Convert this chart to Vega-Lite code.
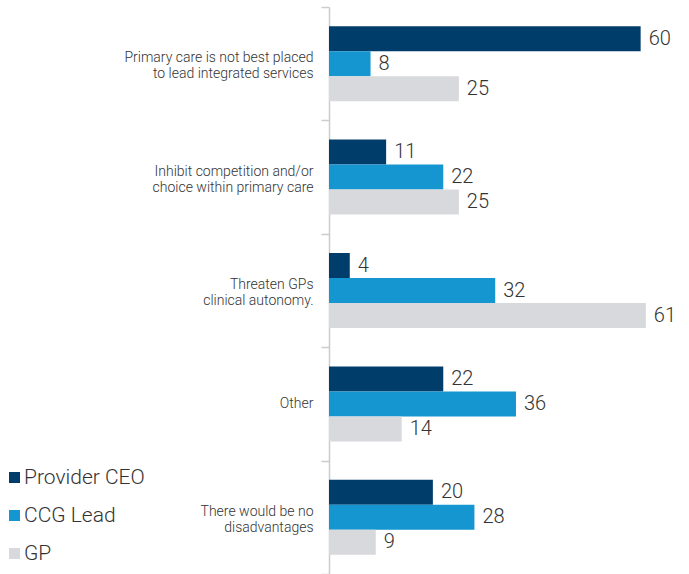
{
  "$schema": "https://vega.github.io/schema/vega-lite/v6.json",
  "autosize": {"type": "none"},
  "padding": {"left": 329, "top": 7, "right": 0, "bottom": 0},
  "width": 348,
  "height": 567,
  "background": "white",
  "config": {"view": {"stroke": null}, "font": "Roboto"},
  "data": {"values": [
    {"category": "Primary care is not best placed|to lead integrated services", "group": "Provider CEO", "value": 60},
    {"category": "Primary care is not best placed|to lead integrated services", "group": "CCG Lead", "value": 8},
    {"category": "Primary care is not best placed|to lead integrated services", "group": "GP", "value": 25},
    {"category": "Inhibit competition and/or|choice within primary care", "group": "Provider CEO", "value": 11},
    {"category": "Inhibit competition and/or|choice within primary care", "group": "CCG Lead", "value": 22},
    {"category": "Inhibit competition and/or|choice within primary care", "group": "GP", "value": 25},
    {"category": "Threaten GPs|clinical autonomy.", "group": "Provider CEO", "value": 4},
    {"category": "Threaten GPs|clinical autonomy.", "group": "CCG Lead", "value": 32},
    {"category": "Threaten GPs|clinical autonomy.", "group": "GP", "value": 61},
    {"category": "Other", "group": "Provider CEO", "value": 22},
    {"category": "Other", "group": "CCG Lead", "value": 36},
    {"category": "Other", "group": "GP", "value": 14},
    {"category": "There would be no|disadvantages", "group": "Provider CEO", "value": 20},
    {"category": "There would be no|disadvantages", "group": "CCG Lead", "value": 28},
    {"category": "There would be no|disadvantages", "group": "GP", "value": 9}
  ]},
  "encoding": {
    "y": {
      "field": "category", "type": "nominal", "sort": null,
      "scale": {"paddingInner": 0, "paddingOuter": 0},
      "axis": {
        "title": null, "domainColor": "#cccccc", "domainWidth": 1.5,
        "tickColor": "#cccccc", "tickWidth": 1.5, "tickSize": 8, "tickBand": "extent",
        "labelExpr": "split(datum.label, '|')",
        "labelFontSize": 14, "labelColor": "#333333", "labelPadding": 8,
        "labelLineHeight": 16, "labelFont": "Roboto", "labelFontWeight": 300,
        "labelBaseline": "middle", "labelLimit": 320,
        "labelOffset": {"condition": {"test": "datum.label == 'Other'", "value": 0}, "value": -6}
      }
    },
    "yOffset": {
      "field": "group", "type": "nominal",
      "sort": ["Provider CEO", "CCG Lead", "GP"],
      "scale": {"paddingInner": 0, "paddingOuter": 0.768}
    },
    "x": {
      "field": "value", "type": "quantitative",
      "scale": {"domain": [0, 67], "nice": false},
      "axis": null
    }
  },
  "layer": [
    {
      "mark": {"type": "bar"},
      "encoding": {
        "color": {
          "field": "group", "type": "nominal",
          "sort": ["Provider CEO", "CCG Lead", "GP"],
          "scale": {"domain": ["Provider CEO", "CCG Lead", "GP"], "range": ["#003d6b", "#1596d0", "#d8d9dc"]},
          "legend": {
            "title": null, "orient": "none", "legendX": -325, "legendY": 460,
            "symbolType": "square", "symbolSize": 121, "symbolStrokeWidth": 0,
            "labelFontSize": 21, "labelColor": "#333333", "labelFont": "Roboto", "labelFontWeight": 300,
            "labelOffset": -1, "rowPadding": 16
          }
        }
      }
    },
    {
      "mark": {"type": "text", "align": "left", "baseline": "middle", "dx": 8, "fontSize": 20, "color": "#333333", "font": "Roboto", "fontWeight": 300},
      "encoding": {"text": {"field": "value", "type": "quantitative"}}
    }
  ]
}
